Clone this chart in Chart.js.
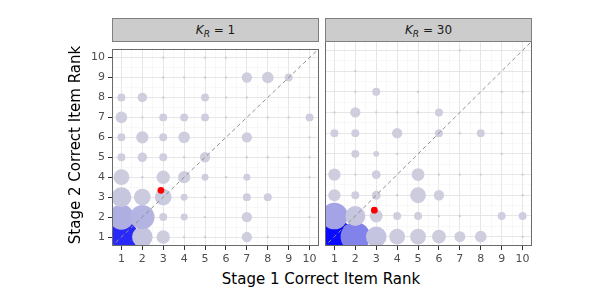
<!DOCTYPE html>
<html><head><meta charset="utf-8">
<script src="https://cdn.jsdelivr.net/npm/chart.js@4"></script>
<style>
html,body{margin:0;padding:0;background:#fff;width:600px;height:300px;overflow:hidden;font-family:"DejaVu Sans",sans-serif;}
#wrap{position:relative;width:600px;height:300px;}
canvas{position:absolute;}
.strip{position:absolute;top:18px;height:24px;background:#cccccc;border:1px solid #7f7f7f;box-sizing:border-box;text-align:center;font-size:12px;line-height:22px;color:#1a1a1a;}
.strip sub{font-size:9px;vertical-align:-3px;line-height:0;}
.ytitle{position:absolute;left:-75px;top:136px;width:300px;height:18px;line-height:18px;text-align:center;font-size:15px;color:#000;transform:rotate(-90deg);transform-origin:150px 9px;}
.xtitle{position:absolute;left:121px;top:270px;width:400px;height:18px;line-height:18px;text-align:center;font-size:15px;color:#000;}
</style></head>
<body><div id="wrap">
<canvas id="c1" width="320" height="231" style="left:0;top:39px;width:320px;height:231px"></canvas>
<canvas id="c2" width="278" height="231" style="left:322px;top:39px;width:278px;height:231px"></canvas>
<div class="strip" style="left:112px;width:207px"><i>K</i><sub><i>R</i></sub> = 1</div>
<div class="strip" style="left:325px;width:207px"><i>K</i><sub><i>R</i></sub> = 30</div>
<div class="ytitle">Stage 2 Correct Item Rank</div>
<div class="xtitle">Stage 1 Correct Item Rank</div>
</div>
<script>
const rankTicks = [1,2,3,4,5,6,7,8,9,10];
const axisLimits = [0.55, 10.45];
const diagLine = [0, 11];

// K_R = 1 : stage-1 rank, stage-2 rank, count
const k1X = [1,1,1,1,1,1,1,1, 2,2,2,2,2,2,2,2, 3,3,3,3,3,3,3,3,3,3, 4,4,4,4,4,4,4,4, 5,5,5,5,5,5,5,5,5, 6,6,6,6,6, 7,7,7,7,7,7,7,7, 8,8,8,8,8, 9,9,9, 10,10,10,10,10,10];
const k1Y = [1,2,3,4,5,6,7,8, 1,2,3,4,5,6,7,8, 1,2,3,4,5,6,7,8,9,10, 1,2,3,4,5,6,7,9, 1,2,3,4,5,7,8,9,10, 4,7,8,9,10, 1,2,3,4,5,6,8,9, 1,3,5,7,9, 5,7,9, 2,4,5,6,7,8];
const k1N = [80,45,28,18,5,5,10,5, 30,42,20,1,7,11,1,7, 13,5,20,13,5,5,5,1,1,1, 1,4,4,11,1,10,5,1, 1,1,1,4,8,5,5,1,1, 1,1,1,1,1, 8,8,5,4,1,8,1,8, 1,5,1,1,10, 1,1,5, 1,1,1,1,5,1];

// K_R = 30
const k30X = [1,1,1,1,1,1, 2,2,2,2,2,2,2,2,2, 3,3,3,3,3,3,3, 4,4,4,4,4,4, 5,5,5,5,5,5, 6,6,6,6,6,6, 7,7,7,7,7, 8,8,8,8, 9,9,9,9,9, 10,10,10,10,10,10];
const k30Y = [1,2,3,4,6,7, 1,2,3,4,5,6,7,8,9, 1,2,3,4,5,7,8, 1,2,3,5,6,7, 1,2,3,4,7,8, 1,2,3,4,6,7, 1,2,4,6,10, 1,4,6,7, 2,5,6,7,8, 1,2,3,4,7,8];
const k30N = [90,50,11,11,5,1, 61,28,5,1,5,5,8,1,1, 30,12,6,6,3,1,5, 18,5,1,1,8,1, 18,5,18,12,1,1, 14,1,8,1,5,5, 9,1,1,1,1, 10,1,5,1, 5,1,1,1,1, 1,5,1,1,1,1];

// mean point per panel
const meanX = [2.89, 2.91];
const meanY = [3.34, 2.28];

function radiusFor(n){ return Math.sqrt(1.4 + 3.6*(n-1)); }
function colorFor(n){
  const t = Math.pow(Math.min(1,(n-1)/84), 2.8);
  const a=[206,206,222], b=[10,10,255];
  const c = a.map((v,i)=>Math.round(v+(b[i]-v)*t));
  return 'rgb('+c.join(',')+')';
}
function pts(xs,ys,ns){
  return xs.map((x,i)=>({x:x,y:ys[i],n:ns[i]}));
}
const tickVals = [];
rankTicks.forEach((v,i)=>{ tickVals.push(v); if(i<rankTicks.length-1) tickVals.push(v+0.5); });

const borderPlugin = {
  id:'panelBorder',
  afterDraw(chart){
    const a=chart.chartArea, ctx=chart.ctx;
    ctx.save();
    ctx.strokeStyle='#6a6a6a'; ctx.lineWidth=1;
    ctx.strokeRect(Math.round(a.left)+0.5, Math.round(a.top)+0.5, Math.round(a.right-a.left)-1, Math.round(a.bottom-a.top)-1);
    ctx.restore();
  }
};

function makeChart(id, xs, ys, ns, idx, showY, pad){
  const gridColor = c => (c.tick && Number.isInteger(c.tick.value)) ? '#e6e6e6' : '#f3f3f3';
  const tickColor = c => (c.tick && Number.isInteger(c.tick.value)) ? '#333333' : 'rgba(0,0,0,0)';
  const font = {family:'DejaVu Sans', size:11};
  return new Chart(document.getElementById(id), {
    type:'scatter',
    data:{datasets:[
      {data:[{x:meanX[idx], y:meanY[idx]}], pointRadius:3.4, pointBackgroundColor:'#ff0000', pointBorderWidth:0, order:0, clip:0},
      {data:diagLine.map(v=>({x:v,y:v})), showLine:true, borderColor:'#8f8f8f', borderWidth:1, borderDash:[4,3], pointRadius:0, order:1, clip:0},
      {data:pts(xs,ys,ns), pointRadius:c=>radiusFor(c.raw.n), pointBackgroundColor:c=>colorFor(c.raw.n), pointBorderWidth:0, order:2, clip:0}
    ]},
    options:{
      responsive:false, animation:false, events:[], devicePixelRatio:1,
      layout:{padding:pad, autoPadding:false},
      plugins:{legend:{display:false}, tooltip:{enabled:false}},
      scales:{
        x:{type:'linear', min:axisLimits[0], max:axisLimits[1],
           afterBuildTicks:s=>{ s.ticks = tickVals.map(v=>({value:v})); },
           afterFit:s=>{ s.height = 24; },
           ticks:{autoSkip:false, maxRotation:0, font:font, color:'#4d4d4d', padding:3,
                  callback:v=>Number.isInteger(v)?String(v):''},
           grid:{color:gridColor, lineWidth:c=>(c.tick&&Number.isInteger(c.tick.value))?1:0.6, tickColor:tickColor, tickLength:4, tickWidth:1},
           border:{display:false}},
        y:{type:'linear', min:axisLimits[0], max:axisLimits[1],
           afterBuildTicks:s=>{ s.ticks = tickVals.map(v=>({value:v})); },
           afterFit:s=>{ s.width = showY ? 112 : 3; },
           ticks:{display:showY, autoSkip:false, font:font, color:'#4d4d4d', padding:3,
                  callback:v=>Number.isInteger(v)?String(v):''},
           grid:{color:gridColor, lineWidth:c=>(c.tick&&Number.isInteger(c.tick.value))?1:0.6, tickColor:tickColor, tickLength:4, tickWidth:1, drawTicks:showY},
           border:{display:false}}
      }
    },
    plugins:[borderPlugin]
  });
}
makeChart('c1', k1X, k1Y, k1N, 0, true, {top:2, right:1, left:0, bottom:0});
makeChart('c2', k30X, k30Y, k30N, 1, false, {top:2, right:68, left:0, bottom:0});
</script>
</body></html>
